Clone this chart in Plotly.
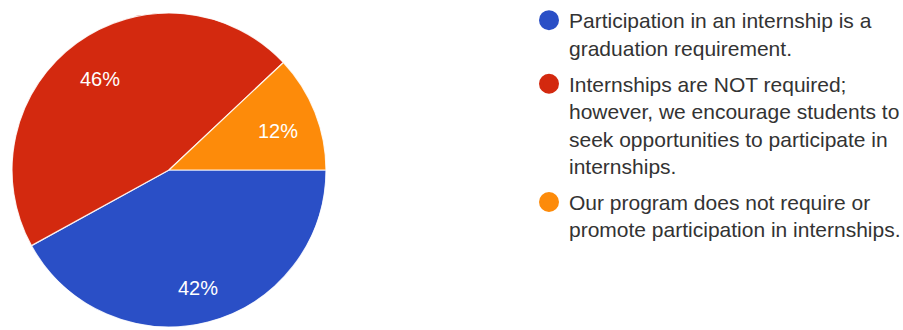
import math
import plotly.graph_objects as go

# Survey responses: how programs handle student internships
labels = [
    "Participation in an internship is a<br>graduation requirement.",
    "Internships are NOT required;<br>however, we encourage students to<br>seek opportunities to participate in<br>internships.",
    "Our program does not require or<br>promote participation in internships.",
]
shares = [42, 46, 12]
colors = ["#2a4fc6", "#d3290f", "#fd8b0a"]

W, H = 903, 330
FONT = "Liberation Sans, Arial, Helvetica, sans-serif"

# Pie placement (pixels)
PIE_L, PIE_R, PIE_B, PIE_T = 12, 326, 3, 317
START_ANGLE = 90  # first slice starts at 3 o'clock, going clockwise

fig = go.Figure()

fig.add_trace(go.Pie(
    labels=labels,
    values=shares,
    sort=False,
    direction="clockwise",
    rotation=START_ANGLE,
    marker=dict(colors=colors, line=dict(color="rgba(255,255,255,0.85)", width=1.2)),
    textinfo="none",
    domain=dict(x=[PIE_L / W, PIE_R / W], y=[PIE_B / H, PIE_T / H]),
    showlegend=False,
    hoverinfo="label+percent",
))

# Percentage labels placed along each slice's bisector
cx = (PIE_L + PIE_R) / 2
cy = (PIE_B + PIE_T) / 2
radius = (PIE_R - PIE_L) / 2
total = sum(shares)
acc = 0.0
for v in shares:
    mid = START_ANGLE + (acc + v / 2) / total * 360.0
    acc += v
    rr = radius * 0.75
    px = cx + rr * math.sin(math.radians(mid))
    py = cy + rr * math.cos(math.radians(mid))
    fig.add_annotation(
        x=px / W, y=py / H, xref="paper", yref="paper",
        text=f"{v}%", showarrow=False,
        font=dict(family=FONT, size=20, color="white"),
        xanchor="center", yanchor="middle", yshift=-4,
    )

# Legend entries drawn as round markers
for i, (name, col) in enumerate(zip(labels, colors)):
    fig.add_trace(go.Scatter(
        x=[None], y=[None], mode="markers", name=name,
        legendgroup=f"g{i}",
        marker=dict(symbol="circle", size=16, color=col, line=dict(color=col, width=4)),
        hoverinfo="skip",
    ))

fig.update_layout(
    width=W, height=H,
    margin=dict(l=0, r=0, t=0, b=0, autoexpand=False),
    paper_bgcolor="white", plot_bgcolor="white",
    xaxis=dict(visible=False), yaxis=dict(visible=False),
    legend=dict(
        x=529 / W, y=1.0, xanchor="left", yanchor="top",
        font=dict(family=FONT, size=21, color="#333333"),
        itemsizing="trace",
        valign="top",
        tracegroupgap=6,
        bgcolor="rgba(0,0,0,0)",
    ),
    font=dict(family=FONT),
)

fig.write_html("out.html")
